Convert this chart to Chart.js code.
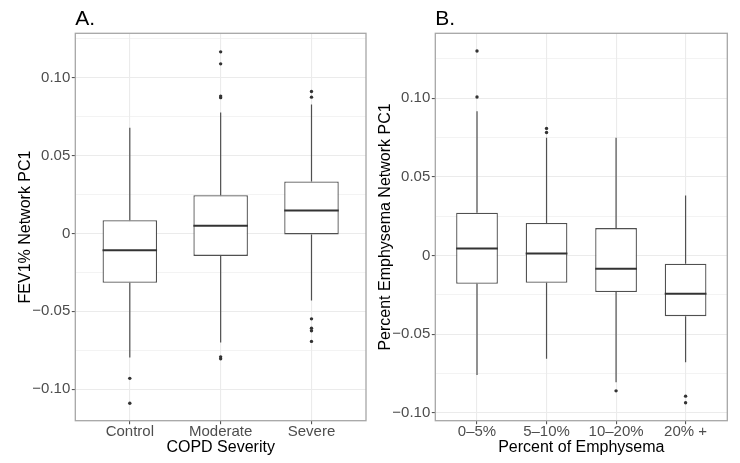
<!DOCTYPE html>
<html>
<head>
<meta charset="utf-8">
<script src="https://cdn.jsdelivr.net/npm/chart.js@4.4.1/dist/chart.umd.min.js"></script>
<style>
    html, body { margin: 0; padding: 0; background: #fff; }
    .panel { position: absolute; top: 0; width: 370px; height: 463px; }
</style>
</head>
<body>
<div class="panel" style="left:0"><canvas id="chartA" width="370" height="463"></canvas></div>
<div class="panel" style="left:370px"><canvas id="chartB" width="370" height="463"></canvas></div>
<script>
// Panel A - COPD severity
const copdLabels = ['Control', 'Moderate', 'Severe'];
const copdLow = [-0.0796, -0.0700, -0.0430];
const copdQ1 = [-0.0317, -0.0144, -0.0006];
const copdMedian = [-0.0107, 0.0049, 0.0148];
const copdQ3 = [0.0085, 0.0246, 0.0334];
const copdHigh = [0.0678, 0.0777, 0.0828];
const copdOutliers = [
    [-0.0930, -0.1090],
    [0.1166, 0.1089, 0.0882, 0.0872, -0.0792, -0.0805],
    [0.0911, 0.0875, -0.0548, -0.0608, -0.0625, -0.0693]
];
const copdTickValues = [-0.10, -0.05, 0, 0.05, 0.10];
const copdTickLabels = ['\u22120.10', '\u22120.05', '0', '0.05', '0.10'];
const copdRange = [-0.1202, 0.1285];

// Panel B - percent emphysema
const emphLabels = ['0\u20135%', '5\u201310%', '10\u201320%', '20% +'];
const emphLow = [-0.0761, -0.0657, -0.0806, -0.0679];
const emphQ1 = [-0.0180, -0.0174, -0.0233, -0.0386];
const emphMedian = [0.0045, 0.0013, -0.0085, -0.0244];
const emphQ3 = [0.0272, 0.0206, 0.0174, -0.0053];
const emphHigh = [0.0918, 0.0749, 0.0749, 0.0382];
const emphOutliers = [
    [0.1300, 0.1008],
    [0.0808, 0.0782],
    [-0.0861],
    [-0.0895, -0.0937]
];
const emphTickValues = [-0.10, -0.05, 0, 0.05, 0.10];
const emphTickLabels = ['\u22120.10', '\u22120.05', '0', '0.05', '0.10'];
const emphRange = [-0.1051, 0.1413];

const FONT = "'Liberation Sans', Arial, sans-serif";

// Whiskers, medians, panel border and panel letter
const boxPlotPlugin = {
    id: 'boxPlot',
    beforeDatasetsDraw(chart, args, opts) {
        const { ctx, scales: { x, y } } = chart;
        ctx.save();
        ctx.strokeStyle = '#505050';
        ctx.lineWidth = 1.2;
        for (let i = 0; i < opts.low.length; i++) {
            const px = x.getPixelForValue(i + 1);
            ctx.beginPath();
            ctx.moveTo(px, y.getPixelForValue(opts.high[i]));
            ctx.lineTo(px, y.getPixelForValue(opts.q3[i]));
            ctx.moveTo(px, y.getPixelForValue(opts.q1[i]));
            ctx.lineTo(px, y.getPixelForValue(opts.low[i]));
            ctx.stroke();
        }
        ctx.restore();
    },
    afterDatasetsDraw(chart, args, opts) {
        const { ctx, chartArea, scales: { y } } = chart;
        const meta = chart.getDatasetMeta(0);
        ctx.save();
        // medians
        ctx.strokeStyle = '#333';
        ctx.lineWidth = 2;
        meta.data.forEach((bar, i) => {
            const py = y.getPixelForValue(opts.median[i]);
            ctx.beginPath();
            ctx.moveTo(bar.x - bar.width / 2, py);
            ctx.lineTo(bar.x + bar.width / 2, py);
            ctx.stroke();
        });
        // panel border
        ctx.strokeStyle = '#a6a6a6';
        ctx.lineWidth = 1.3;
        ctx.strokeRect(chartArea.left, chartArea.top, chartArea.right - chartArea.left, chartArea.bottom - chartArea.top);
        // panel letter
        ctx.fillStyle = '#000';
        ctx.font = '21px ' + FONT;
        ctx.textBaseline = 'alphabetic';
        ctx.fillText(opts.letter, chartArea.left, 25);
        ctx.restore();
    }
};

function makePanel(id, cfg) {
    const step = cfg.tickValues[1] - cfg.tickValues[0];
    const allTicks = [];
    cfg.tickValues.forEach((v, i) => {
        if (i === 0 && v - step / 2 >= cfg.range[0]) allTicks.push({ value: v - step / 2, minor: true });
        allTicks.push({ value: v, minor: false });
        const mid = v + step / 2;
        if (mid <= cfg.range[1]) allTicks.push({ value: mid, minor: true });
    });

    const outlierPoints = [];
    cfg.outliers.forEach((list, i) => list.forEach(v => outlierPoints.push({ x: i + 1, y: v })));

    new Chart(document.getElementById(id), {
        type: 'bar',
        data: {
            datasets: [{
                type: 'bar',
                data: cfg.labels.map((l, i) => ({ x: i + 1, y: [cfg.q1[i], cfg.q3[i]] })),
                backgroundColor: '#ffffff',
                borderColor: '#505050',
                borderWidth: 1.3,
                borderSkipped: false,
                barPercentage: 0.6,
                categoryPercentage: 1
            }, {
                type: 'scatter',
                data: outlierPoints,
                pointRadius: 1.7,
                pointBackgroundColor: '#333',
                pointBorderWidth: 0
            }]
        },
        options: {
            responsive: false,
            animation: false,
            layout: { padding: { left: 0, top: 33.3, right: cfg.padRight, bottom: 0 } },
            plugins: {
                legend: { display: false },
                tooltip: { enabled: false },
                boxPlot: {
                    low: cfg.low, q1: cfg.q1, median: cfg.median, q3: cfg.q3, high: cfg.high,
                    letter: cfg.letter
                }
            },
            scales: {
                x: {
                    type: 'linear',
                    min: 0.4,
                    max: cfg.labels.length + 0.6,
                    offset: false,
                    afterBuildTicks: s => { s.ticks = cfg.labels.map((l, i) => ({ value: i + 1 })); },
                    afterFit: s => { s.height = 42.3; },
                    ticks: {
                        autoSkip: false,
                        maxRotation: 0,
                        callback: v => cfg.labels[v - 1],
                        color: '#4d4d4d',
                        font: { family: FONT, size: 15 },
                        padding: -1
                    },
                    grid: { offset: false, color: '#ebebeb', lineWidth: 1.1, tickLength: 3.5, tickColor: '#555' },
                    border: { display: false },
                    title: {
                        display: true, text: cfg.xTitle, color: '#000',
                        font: { family: FONT, size: 16 }, padding: { top: 0, bottom: 5.4 }
                    }
                },
                y: {
                    min: cfg.range[0],
                    max: cfg.range[1],
                    afterBuildTicks: s => { s.ticks = allTicks.map(t => ({ value: t.value, minor: t.minor })); },
                    afterFit: s => { s.width = cfg.yWidth; },
                    ticks: {
                        autoSkip: false,
                        callback: v => {
                            const k = cfg.tickValues.findIndex(t => Math.abs(t - v) < 1e-9);
                            return k >= 0 ? cfg.tickLabels[k] : '';
                        },
                        color: '#4d4d4d',
                        font: { family: FONT, size: 15 },
                        padding: 1.5
                    },
                    grid: {
                        color: '#ebebeb',
                        lineWidth: c => (c.tick && c.tick.minor ? 0.6 : 1.1),
                        tickLength: 3.5,
                        tickColor: c => (c.tick && c.tick.minor ? 'rgba(0,0,0,0)' : '#555')
                    },
                    border: { display: false },
                    title: {
                        display: true, text: cfg.yTitle, color: '#000',
                        font: { family: FONT, size: 16 }, padding: { top: cfg.yTitlePad, bottom: 0 }
                    }
                }
            }
        },
        plugins: [boxPlotPlugin]
    });
}

makePanel('chartA', {
    letter: 'A.',
    labels: copdLabels, low: copdLow, q1: copdQ1, median: copdMedian, q3: copdQ3, high: copdHigh,
    outliers: copdOutliers, tickValues: copdTickValues, tickLabels: copdTickLabels, range: copdRange,
    xTitle: 'COPD Severity', yTitle: 'FEV1% Network PC1',
    yWidth: 75.3, padRight: 3.3, yTitlePad: 16
});

makePanel('chartB', {
    letter: 'B.',
    labels: emphLabels, low: emphLow, q1: emphQ1, median: emphMedian, q3: emphQ3, high: emphHigh,
    outliers: emphOutliers, tickValues: emphTickValues, tickLabels: emphTickLabels, range: emphRange,
    xTitle: 'Percent of Emphysema', yTitle: 'Percent Emphysema Network PC1',
    yWidth: 65.3, padRight: 12.7, yTitlePad: 5.5
});
</script>
</body>
</html>
